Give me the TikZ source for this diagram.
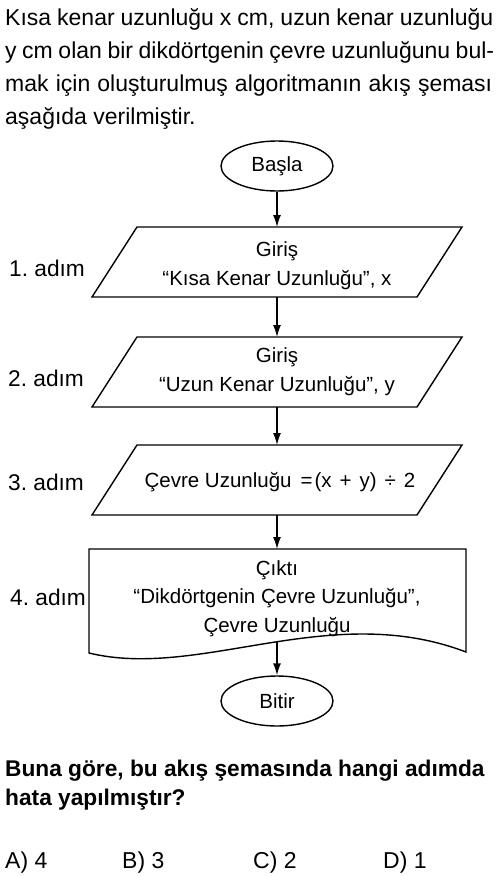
\documentclass[tikz,border=0pt]{standalone}
\usepackage{fontspec}
\setmainfont{Liberation Sans}
\usetikzlibrary{shapes.geometric,arrows.meta}
\begin{document}
\frenchspacing
\begin{tikzpicture}[x=1pt,y=-1pt,
  body/.style={anchor=base west,inner sep=0pt,font=\fontsize{23}{33}\selectfont},
  qtext/.style={anchor=base west,inner sep=0pt,font=\fontsize{22.7}{33}\selectfont\bfseries},
  boxtext/.style={align=center,inner sep=0pt,font=\fontsize{20.5}{28.5}\selectfont},
  term/.style={ellipse,draw,line width=1.4pt,minimum width=112pt,minimum height=50pt,inner sep=0pt,font=\fontsize{20.5}{24}\selectfont},
  shapeline/.style={draw,line width=1.4pt,line join=miter},
  flow/.style={line width=1.4pt,-{Latex[length=12pt,width=8pt]}},
  steplabel/.style={anchor=base west,inner sep=0pt,font=\fontsize{22.7}{27}\selectfont}]
\useasboundingbox (0,0) rectangle (500,876);

% intro text
\node[body] (l1) at (5,25) {\makebox[488pt][s]{Kısa kenar uzunluğu x cm, uzun kenar uzunluğu}};
\node[body] (l2) at (5,58) {\makebox[489pt][s]{y cm olan bir dikdörtgenin çevre uzunluğunu bul-}};
\node[body] (l3) at (5,91) {\makebox[487pt][s]{mak için oluşturulmuş algoritmanın akış şeması}};
\node[body] (l4) at (5,124) {aşağıda verilmiştir.};

% start
\node[term] (s) at (277,166) {Başla};

% step 1
\draw[shapeline] (137,227) -- (462,227) -- (417,297) -- (92,297) -- cycle;
\coordinate (p1t) at (277,227);
\coordinate (p1b) at (277,297);
\node[boxtext] (p1) at (277,265.5) {Giriş\\“Kısa Kenar Uzunluğu”, x};
\node[steplabel] (a1) at (9,276) {1. adım};

% step 2
\draw[shapeline] (137,337) -- (462,337) -- (417,407) -- (92,407) -- cycle;
\coordinate (p2t) at (277,337);
\coordinate (p2b) at (277,407);
\node[boxtext] (p2) at (277,371.5) {Giriş\\“Uzun Kenar Uzunluğu”, y};
\node[steplabel] (a2) at (8,386) {2. adım};

% step 3
\draw[shapeline] (137,445) -- (462,445) -- (417,515) -- (92,515) -- cycle;
\coordinate (p3t) at (277,445);
\coordinate (p3b) at (277,515);
\node[boxtext] (p3) at (280,482.5) {Çevre Uzunluğu\hspace{9pt}=\hspace{2pt}(x\hspace{8pt}+\hspace{8pt}y)\hspace{8pt}÷\hspace{8pt}2};
\node[steplabel] (a3) at (8,490) {3. adım};

% step 4 (document)
\draw[shapeline] (89,549) -- (466,549) -- (466,652)
   .. controls (330,600) and (200,680) .. (89,653) -- cycle;
\coordinate (dt) at (277,549);
\coordinate (wv) at (277,642);
\node[boxtext] (p4) at (277,598.5) {Çıktı\\“Dikdörtgenin Çevre Uzunluğu”,\\Çevre Uzunluğu};
\node[steplabel] (a4) at (10,605) {4. adım};

% end
\node[term] (e) at (277,701) {Bitir};

% connectors
\draw[flow] (s) -- (p1t);
\draw[flow] (p1b) -- (p2t);
\draw[flow] (p2b) -- (p3t);
\draw[flow] (p3b) -- (dt);
\draw[flow] (wv) -- (e);

% question
\node[qtext] (q1) at (5,776) {Buna göre, bu akış şemasında hangi adımda};
\node[qtext] (q2) at (5,805) {hata yapılmıştır?};

% answers
\node[body] (ansA) at (5,868) {A) 4};
\node[body] (ansB) at (122,868) {B) 3};
\node[body] (ansC) at (253,868) {C) 2};
\node[body] (ansD) at (383,868) {D) 1};
\end{tikzpicture}
\end{document}
